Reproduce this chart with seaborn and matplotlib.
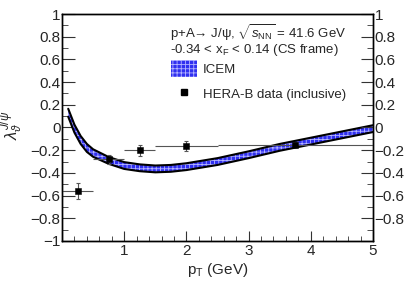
import numpy as np
import pandas as pd
import matplotlib
matplotlib.use("Agg")
import matplotlib.pyplot as plt
import seaborn as sns
from matplotlib.patches import Patch
from matplotlib.lines import Line2D
from matplotlib.ticker import MultipleLocator, FuncFormatter

# --- ICEM band (centre and half-width) ---
icem_pt = [0.1, 0.2, 0.3, 0.4, 0.5, 0.75, 1.0, 1.25, 1.5, 1.75, 2.0, 2.5, 3.0, 3.5, 4.0, 4.5, 5.0]
icem_mid = [0.13, -0.01, -0.11, -0.18, -0.225, -0.29, -0.335, -0.355, -0.365, -0.36, -0.345,
            -0.30, -0.24, -0.175, -0.12, -0.065, -0.01]
icem_half = [0.035, 0.035, 0.035, 0.035, 0.033, 0.03, 0.03, 0.03, 0.03, 0.03, 0.03,
             0.03, 0.03, 0.03, 0.03, 0.03, 0.03]

# --- HERA-B data (inclusive) ---
herab_pt = [0.25, 0.75, 1.25, 2.0, 3.75]
herab_pt_err = [0.25, 0.25, 0.25, 0.5, 1.25]
herab_lam = [-0.56, -0.28, -0.20, -0.165, -0.15]
herab_lam_err = [0.07, 0.04, 0.05, 0.045, 0.025]

sns.set_style("ticks")
plt.rcParams['font.family'] = ['Liberation Sans', 'DejaVu Sans']
plt.rcParams['mathtext.fontset'] = 'custom'
plt.rcParams['mathtext.rm'] = 'Liberation Sans'
plt.rcParams['mathtext.it'] = 'Liberation Sans:italic'
plt.rcParams['hatch.color'] = '#b4b4ff'
plt.rcParams['hatch.linewidth'] = 0.6

band = pd.DataFrame({'pt': icem_pt, 'mid': icem_mid, 'half': icem_half})
band['lo'] = band['mid'] - band['half']
band['hi'] = band['mid'] + band['half']

fig = plt.figure(figsize=(4.15, 2.84), dpi=100)
ax = fig.add_axes([62 / 415, 1 - 241 / 284, 311 / 415, 227 / 284])

fill_col = '#3030f0'
ax.fill_between(band['pt'], band['lo'], band['hi'], facecolor=fill_col, hatch='++++',
                edgecolor='#b4b4ff', linewidth=0, zorder=2)
sns.lineplot(data=band, x='pt', y='hi', color='black', lw=1.5, ax=ax, zorder=3)
sns.lineplot(data=band, x='pt', y='lo', color='black', lw=1.5, ax=ax, zorder=3)

# data points
ax.errorbar(herab_pt, herab_lam, xerr=herab_pt_err, fmt='none', ecolor='#555555',
            elinewidth=0.8, capsize=0, zorder=4)
ax.errorbar(herab_pt, herab_lam, yerr=herab_lam_err, fmt='none', ecolor='#555555',
            elinewidth=0.8, capsize=1.5, capthick=0.8, zorder=4)
sns.scatterplot(x=herab_pt, y=herab_lam, marker='s', color='black', s=22,
                edgecolor='black', ax=ax, zorder=5)


def fmt_tick(v, pos):
    s = f"{v:.1f}".rstrip('0').rstrip('.')
    if s in ('-0', ''):
        s = '0'
    return s.replace('-', '\u2212')


def fmt_right(v, pos):
    return '' if v < -0.95 else fmt_tick(v, pos)


ax.set_xlim(0, 5)
ax.set_ylim(-1, 1)
ax.xaxis.set_major_locator(MultipleLocator(1))
ax.xaxis.set_minor_locator(MultipleLocator(0.2))
ax.yaxis.set_major_locator(MultipleLocator(0.2))
ax.yaxis.set_minor_locator(MultipleLocator(0.1))
ax.yaxis.set_major_formatter(FuncFormatter(fmt_tick))
ax.xaxis.set_major_formatter(FuncFormatter(lambda v, p: '' if v == 0 else f"{v:g}"))
ax.tick_params(axis='both', which='both', direction='in', labelsize=11, color='#333333')
ax.tick_params(axis='y', which='major', length=9, right=False, pad=1)
ax.tick_params(axis='y', which='minor', length=4.5, right=False)
ax.tick_params(axis='x', which='major', length=7, top=False, pad=2)
ax.tick_params(axis='x', which='minor', length=3.5, top=False)

# right-hand axis, same scale
axr = ax.twinx()
axr.set_ylim(-1, 1)
axr.yaxis.set_major_locator(MultipleLocator(0.2))
axr.yaxis.set_minor_locator(MultipleLocator(0.1))
axr.yaxis.set_major_formatter(FuncFormatter(fmt_right))
axr.tick_params(axis='y', which='both', direction='in', labelsize=11, color='#333333', pad=1)
axr.tick_params(axis='y', which='major', length=9)
axr.tick_params(axis='y', which='minor', length=4.5)

for a in (ax, axr):
    for sp in a.spines.values():
        sp.set_visible(True)
        sp.set_color('black')
        sp.set_linewidth(1.0)

ax.set_xlabel(r'p$_{\rm T}$ (GeV)', fontsize=11)
ax.set_ylabel(r'$\lambda_{\vartheta}^{J/\psi}$', fontsize=12)
ax.xaxis.set_label_coords(0.5, -0.09)
ax.yaxis.set_label_coords(-0.12, 0.51)

ax.text(170 / 415, 1 - 33 / 284, 'p+A\u2192 J/\u03c8, ' + r'$\sqrt{s_{\rm NN}}$ = 41.6 GeV',
        transform=fig.transFigure, fontsize=9.5, va='center', ha='left')
ax.text(170 / 415, 1 - 50 / 284, r'-0.34 < x$_{\rm F}$ < 0.14 (CS frame)',
        transform=fig.transFigure, fontsize=9.5, va='center', ha='left')

handles = [Patch(facecolor=fill_col, hatch='++++', edgecolor='#b4b4ff', linewidth=0),
           Line2D([], [], marker='s', color='black', ls='none', ms=4.5)]
leg = ax.legend(handles, ['ICEM', 'HERA-B data (inclusive)'], loc='upper left',
                bbox_to_anchor=(171 / 415, 1 - 60 / 284), bbox_transform=fig.transFigure,
                frameon=False, fontsize=9.5, borderpad=0, borderaxespad=0,
                handlelength=1.95, handleheight=1.65, handletextpad=0.45, labelspacing=0.6)

fig.savefig('out.png', dpi=100)
